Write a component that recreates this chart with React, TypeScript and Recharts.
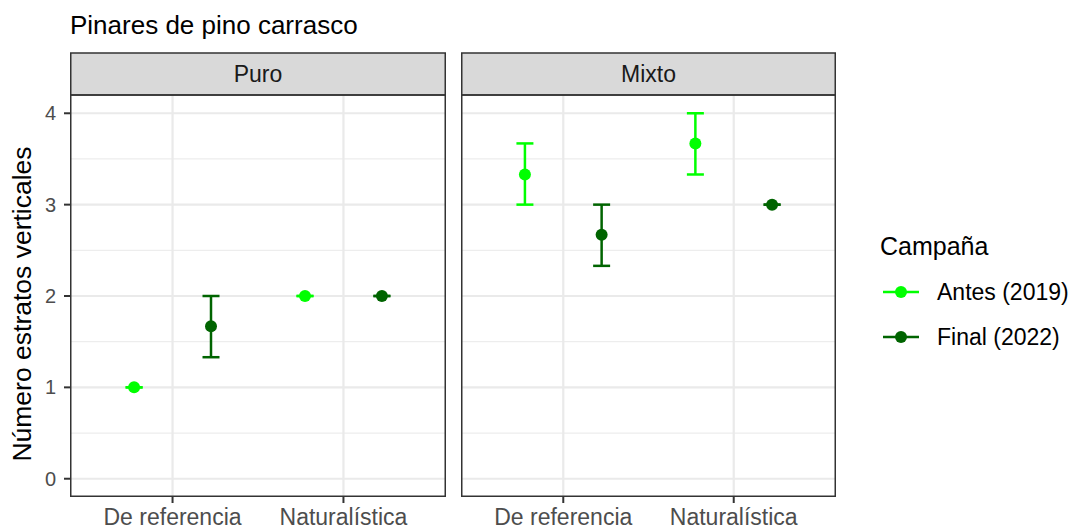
import React from 'react';
import { ScatterChart, Scatter, XAxis, YAxis, CartesianGrid, ErrorBar } from 'recharts';

// ---- data ----
const title = 'Pinares de pino carrasco';
const yLabel = 'Número estratos verticales';
const legendTitle = 'Campaña';
const categories = ['De referencia', 'Naturalística'];
const facets = ['Puro', 'Mixto'];
const seriesNames = ['Antes (2019)', 'Final (2022)'];
const seriesColors = ['#00FF00', '#006400'];
const yTicks = [0, 1, 2, 3, 4];
const yMinor = [0.5, 1.5, 2.5, 3.5];

const puroAntes = [1.0, 2.0];
const puroAntesLo = [1.0, 2.0];
const puroAntesHi = [1.0, 2.0];
const puroFinal = [1.67, 2.0];
const puroFinalLo = [1.33, 2.0];
const puroFinalHi = [2.0, 2.0];

const mixtoAntes = [3.33, 3.67];
const mixtoAntesLo = [3.0, 3.33];
const mixtoAntesHi = [3.67, 4.0];
const mixtoFinal = [2.67, 3.0];
const mixtoFinalLo = [2.33, 3.0];
const mixtoFinalHi = [3.0, 3.0];

const DODGE = 0.225;
const FONT = '"Liberation Sans", Arial, sans-serif';

function build(mean: number[], lo: number[], hi: number[], offset: number) {
  return categories.map((c, i) => ({
    x: i + 1 + offset,
    y: mean[i],
    err: [mean[i] - lo[i], hi[i] - mean[i]],
  }));
}

const facetData = [
  [build(puroAntes, puroAntesLo, puroAntesHi, -DODGE), build(puroFinal, puroFinalLo, puroFinalHi, DODGE)],
  [build(mixtoAntes, mixtoAntesLo, mixtoAntesHi, -DODGE), build(mixtoFinal, mixtoFinalLo, mixtoFinalHi, DODGE)],
];

const tickFmt = (v: number) => categories[Math.round(v) - 1] ?? '';

function Dot(color: string) {
  return (props: any) => <circle cx={props.cx} cy={props.cy} r={6} fill={color} />;
}

function Panel({ idx, left, width, showY }: { idx: number; left: number; width: number; showY: boolean }) {
  const series = facetData[idx];
  return (
    <div style={{ position: 'absolute', left, top: 0 }}>
      <ScatterChart
        width={width}
        height={530}
        margin={{ top: 95, right: showY ? 4 : 0, bottom: 0, left: 0 }}
      >
        <CartesianGrid
          horizontalValues={yMinor}
          vertical={false}
          stroke="#EDEDED"
          strokeWidth={1.2}
        />
        <CartesianGrid
          horizontalValues={yTicks}
          verticalValues={[1, 2]}
          stroke="#EAEAEA"
          strokeWidth={2.2}
        />
        <XAxis
          type="number"
          dataKey="x"
          domain={[0.4, 2.6]}
          ticks={[1, 2]}
          tickFormatter={tickFmt}
          allowDataOverflow
          height={33}
          axisLine={false}
          tickSize={6}
          tickMargin={6}
          tickLine={{ stroke: '#333333', strokeWidth: 2 }}
          tick={{ fill: '#4D4D4D', fontSize: 23, fontFamily: FONT }}
          interval={0}
        />
        <YAxis
          type="number"
          dataKey="y"
          domain={[-0.2, 4.2]}
          ticks={yTicks}
          allowDataOverflow
          hide={!showY}
          width={70}
          axisLine={false}
          tickSize={6}
          tickMargin={8}
          tickLine={{ stroke: '#333333', strokeWidth: 2 }}
          tick={{ fill: '#4D4D4D', fontSize: 20, fontFamily: FONT }}
        />
        {series.map((d, s) => (
          <Scatter
            key={s}
            name={seriesNames[s]}
            data={d}
            fill={seriesColors[s]}
            shape={Dot(seriesColors[s])}
            isAnimationActive={false}
          >
            <ErrorBar
              dataKey="err"
              direction="y"
              width={8.5}
              stroke={seriesColors[s]}
              strokeWidth={2.5}
              isAnimationActive={false}
            />
          </Scatter>
        ))}
      </ScatterChart>
    </div>
  );
}

const panels = [
  { left: 0, width: 450, plotLeft: 70, plotW: 376, showY: true },
  { left: 461, width: 375, plotLeft: 461, plotW: 375, showY: false },
];
const PLOT_TOP = 95;
const PLOT_H = 402;
const STRIP_TOP = 53;

export default function App() {
  return (
    <div style={{ position: 'absolute', left: 0, top: 0, width: 1075, height: 530, background: '#fff', fontFamily: FONT }}>
      {panels.map((p, i) => (
        <Panel key={i} idx={i} left={p.left} width={p.width} showY={p.showY} />
      ))}
      <svg width={1075} height={530} style={{ position: 'absolute', left: 0, top: 0, pointerEvents: 'none' }}>
        <text x={70} y={34} fontSize={26} fill="#000" fontFamily={FONT}>{title}</text>
        {panels.map((p, i) => (
          <g key={i}>
            <rect x={p.plotLeft + 0.75} y={STRIP_TOP} width={p.plotW - 1.5} height={PLOT_TOP - STRIP_TOP} fill="#D9D9D9" stroke="#333333" strokeWidth={1.5} />
            <text x={p.plotLeft + p.plotW / 2} y={74} textAnchor="middle" dominantBaseline="central" fontSize={23} fill="#1A1A1A" fontFamily={FONT}>{facets[i]}</text>
            <rect x={p.plotLeft + 0.75} y={PLOT_TOP} width={p.plotW - 1.5} height={PLOT_H - 0.75} fill="none" stroke="#333333" strokeWidth={1.5} />
          </g>
        ))}
        <text
          transform="translate(31,304) rotate(-90)"
          textAnchor="middle"
          fontSize={26.5}
          fill="#000"
          fontFamily={FONT}
        >
          {yLabel}
        </text>
        <text x={880} y={255} fontSize={25} fill="#000" fontFamily={FONT}>{legendTitle}</text>
        {seriesNames.map((n, i) => {
          const y = 292 + i * 45;
          return (
            <g key={n}>
              <line x1={883} x2={919} y1={y} y2={y} stroke={seriesColors[i]} strokeWidth={2.5} />
              <circle cx={901} cy={y} r={6} fill={seriesColors[i]} />
              <text x={937} y={y} dominantBaseline="central" fontSize={23} fill="#000" fontFamily={FONT}>{n}</text>
            </g>
          );
        })}
      </svg>
    </div>
  );
}
